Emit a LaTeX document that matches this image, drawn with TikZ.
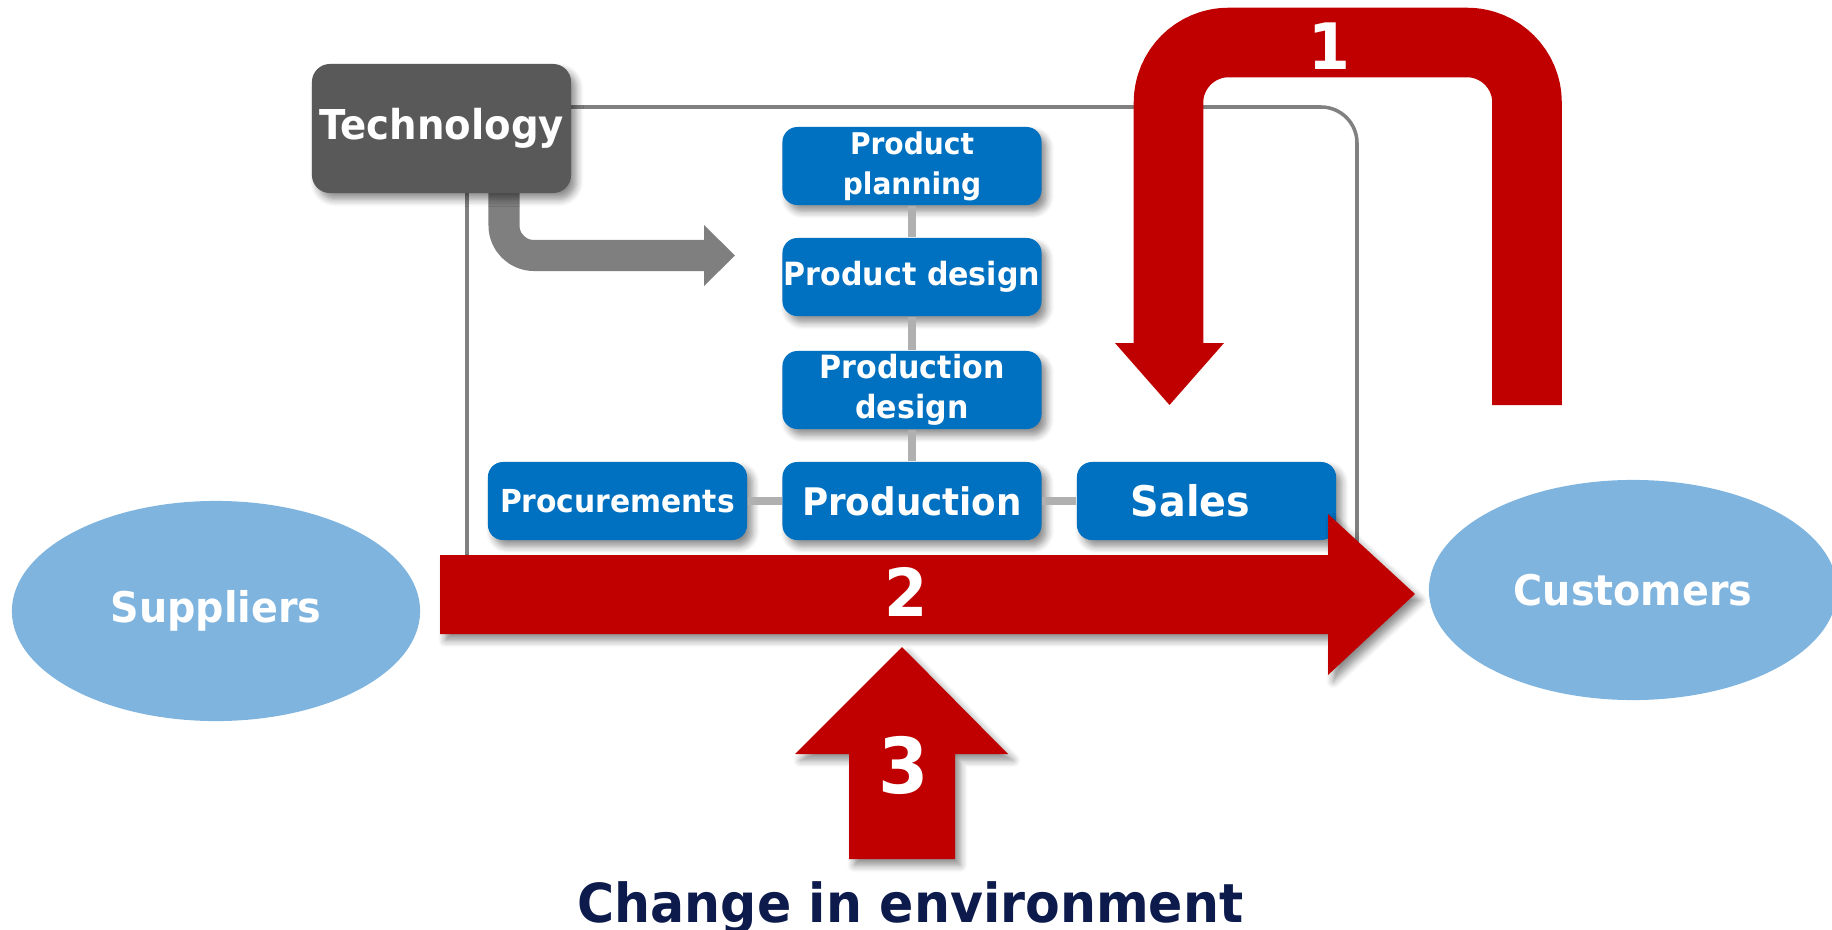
\documentclass[tikz,border=0pt]{standalone}
\usepackage{fontspec}
\setmainfont{DejaVu Sans}[FakeStretch=0.94]
\usetikzlibrary{shapes.geometric, shadows.blur}

\definecolor{techgray}{HTML}{595959}
\definecolor{boxblue}{HTML}{0070C0}
\definecolor{linkgray}{HTML}{B0B0B0}
\definecolor{framegray}{HTML}{808080}
\definecolor{arrowgray}{HTML}{7F7F7F}
\definecolor{flowred}{HTML}{C00000}
\definecolor{partyblue}{HTML}{7FB4DE}
\definecolor{envnavy}{HTML}{0C1A4C}

\begin{document}
\begin{tikzpicture}[x=0.01cm, y=-0.01cm,
    boxshadow/.style={blur shadow={shadow xshift=1.5pt, shadow yshift=-1.8pt, shadow blur radius=2pt, shadow blur steps=6, shadow opacity=45}},
    unit/.style={rectangle, rounded corners=0.15cm, fill=boxblue, text=white, align=center, minimum width=2.59cm, minimum height=0.78cm, inner sep=0pt, boxshadow},
    party/.style={ellipse, fill=partyblue, text=white, minimum width=4.08cm, minimum height=2.2cm, inner sep=0pt, font=\bfseries\fontsize{12}{14}\selectfont},
    link/.style={draw=linkgray, line width=2.1pt},
    digit/.style={text=white, anchor=base, inner sep=0pt, font=\bfseries\fontsize{#1}{#1}\selectfont},
]
\useasboundingbox (0,0) rectangle (1832,930);

% frame round the company
\draw[framegray, line width=1pt, rounded corners=0.36cm] (467,107) rectangle (1357,600);

% technology push
\draw[arrowgray, line width=0.31cm, rounded corners=0.3cm] (504,185) -- (504,255.5) -- (706,255.5);
\fill[arrowgray] (704,225) -- (735,255.5) -- (704,286) -- cycle;

\node[rectangle, rounded corners=0.18cm, fill=techgray, text=white, minimum width=2.59cm, minimum height=1.29cm, inner sep=0pt, boxshadow, font=\bfseries\fontsize{11.7}{14}\selectfont] (tech) at (441.5,128.5) {Technology};

% departments
\foreach \name/\x/\y/\size/\label in {
    plan/912/166/8.5/{Product\\planning},
    pdes/912/277/9.1/Product design,
    prodes/912/390/9.1/{Production\\design},
    proc/617.5/501/9/Procurements,
    prod/912/501/10.8/Production,
    sales/1206.5/501/12/{Sales\hspace*{0.18cm}}
} {
    \node[unit, font=\bfseries\fontsize{\size}{11.4}\selectfont] (\name) at (\x,\y) {\label};
}

\draw[link] (plan) -- (pdes) (pdes) -- (prodes) (prodes) -- (prod);
\draw[link] (proc) -- (prod) (prod) -- (sales);

% market
\node[party] (sup) at (216,611) {Suppliers};
\node[party] (cus) at (1633,590) {Customers};

% 2: flow to the customers
\fill[flowred, boxshadow] (440,555) -- (1328,555) -- (1328,514) -- (1415,594) -- (1328,675) -- (1328,634) -- (440,634) -- cycle;
\node[digit=18.8] (n2) at (906,616) {2};

% 3: change from outside
\fill[flowred, boxshadow] (849,859) -- (849,754) -- (795,754) -- (902,647) -- (1008,754) -- (955,754) -- (955,859) -- cycle;
\node[digit=21.9] (n3) at (904,793) {3};

% 1: feedback from the customers
\draw[flowred, line width=0.695cm, rounded corners=0.6cm] (1527,405) -- (1527,42.5) -- (1168.5,42.5) -- (1168.5,345);
\fill[flowred] (1115,343) -- (1224,343) -- (1169.5,405) -- cycle;
\node[digit=18.2] (n1) at (1329,69) {1};

\node[text=envnavy, anchor=base, inner sep=0pt, font=\bfseries\fontsize{15.3}{18}\selectfont] (env) at (910.5,922) {Change in environment};
\end{tikzpicture}
\end{document}
